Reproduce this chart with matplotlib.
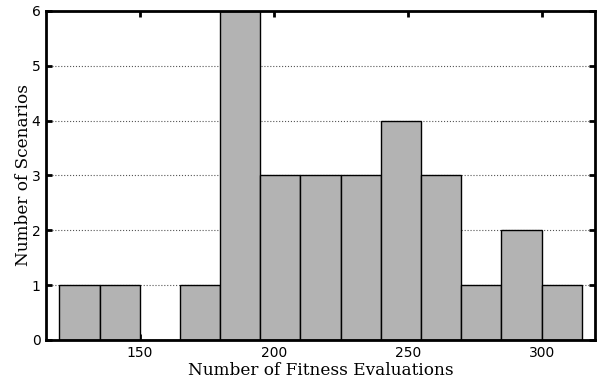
import numpy as np
import matplotlib
matplotlib.use('Agg')
import matplotlib.pyplot as plt

# histogram bins (left edges) and counts
bin_edges = [120, 135, 150, 165, 180, 195, 210, 225, 240, 255, 270, 285, 300, 315]
counts = [1, 1, 0, 1, 6, 3, 3, 3, 4, 3, 1, 2, 1]
x_ticks = [150, 200, 250, 300]
y_ticks = [0, 1, 2, 3, 4, 5, 6]


def main():
    fig = plt.figure(figsize=(5.97, 3.79), dpi=100)
    ax = fig.add_axes([0.077, 0.103, 0.92, 0.868])

    edges = np.array(bin_edges, dtype=float)
    widths = np.diff(edges)
    ax.bar(edges[:-1], counts, width=widths, align='edge',
           color='#b3b3b3', edgecolor='black', linewidth=1.0, zorder=2)

    ax.set_xlim(115, 320)
    ax.set_ylim(0, 6)
    ax.set_xticks(x_ticks)
    ax.set_yticks(y_ticks)
    ax.yaxis.grid(True, linestyle=':', color='#555555', linewidth=0.8, zorder=0)
    ax.set_axisbelow(True)

    ax.tick_params(direction='in', top=True, right=True, length=4, width=2,
                   labelsize=10, pad=4)
    for s in ax.spines.values():
        s.set_linewidth(2)

    ax.set_xlabel('Number of Fitness Evaluations', family='DejaVu Serif',
                  fontsize=12.2, labelpad=2)
    ax.set_ylabel('Number of Scenarios', family='DejaVu Serif',
                  fontsize=12.2, labelpad=0)

    fig.savefig('out.png', dpi=100)


if __name__ == "__main__":
    main()
